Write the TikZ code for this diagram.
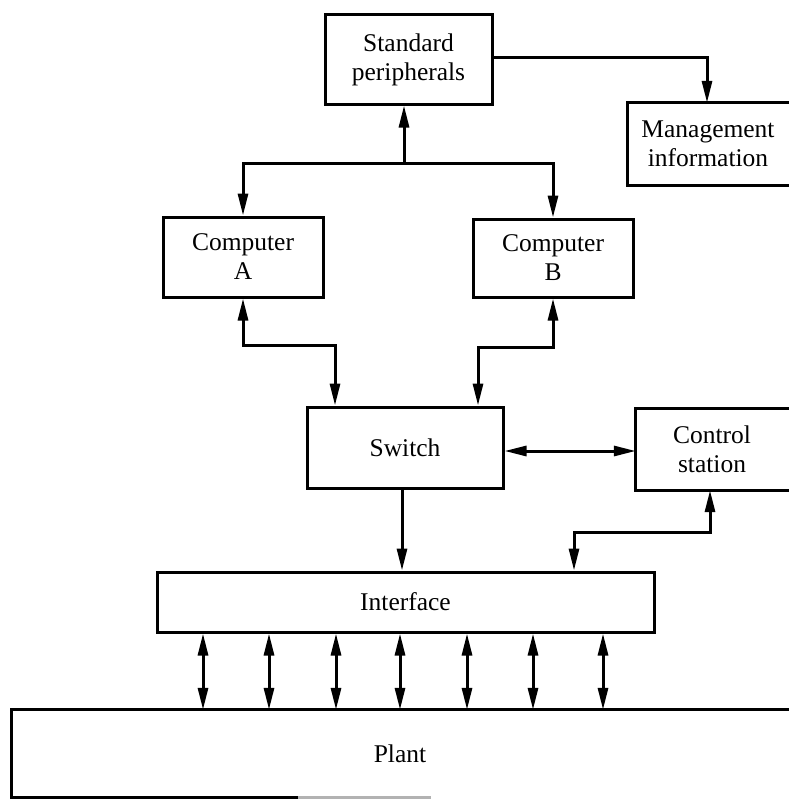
\documentclass[tikz,border=0pt]{standalone}
\usepackage{fontspec}
\setmainfont{Liberation Serif}
\usetikzlibrary{arrows.meta}
\begin{document}
\begin{tikzpicture}[x=1pt,y=-1pt,
  font=\fontsize{25.5}{29}\selectfont,
  thick line/.style={line width=3pt},
  tip/.tip={Triangle[length=22pt,width=10pt]},
  arr/.style={thick line,-tip},
  darr/.style={thick line,tip-tip},
  outline/.style={thick line,line cap=rect},
  box/.style={draw,thick line,rectangle,inner sep=0pt,align=center},
  openbox/.style={rectangle,inner sep=0pt,align=center}]
\useasboundingbox (0,0) rectangle (788,800);

% blocks
\node[box,minimum width=167pt,minimum height=89pt] (sp) at (408.5,59.5) {Standard\\peripherals};
\node[openbox,minimum width=160pt,minimum height=82pt] (mgmt) at (708,144) {Management\\information};
\node[box,minimum width=160pt,minimum height=80pt] (ca) at (243,257) {Computer\\A};
\node[box,minimum width=160pt,minimum height=78pt] (cb) at (553,258) {Computer\\B};
\node[box,minimum width=196pt,minimum height=81pt] (sw) at (405,447.5) {Switch};
\node[openbox,minimum width=152pt,minimum height=81pt] (cs) at (712,449.5) {Control\\station};
\node[box,minimum width=497pt,minimum height=60pt] (itf) at (405.5,602) {Interface};
\node[openbox,minimum width=776pt,minimum height=87pt] (plant) at (400,753.5) {Plant};

% boxes that run off the right edge
\draw[outline] (mgmt.north east) -- (mgmt.north west) -- (mgmt.south west) -- (mgmt.south east);
\draw[outline] (cs.north east) -- (cs.north west) -- (cs.south west) -- (cs.south east);
\draw[outline] (plant.north east) -- (plant.north west) -- (plant.south west) -- ++(288,0);
\draw[outline,black!30] (plant.south west) ++(288,0) -- ++(130,0);

% bend points
\coordinate (bus) at (404,163);
\coordinate (ja) at (335,345);
\coordinate (jb) at (478,347);
\coordinate (jc) at (574,532);
\coordinate (jm) at (707,58);

% connectors
\draw[arr] (sp.east |- jm) -- (jm) -- (jm |- mgmt.north);
\draw[arr] (bus) -- (bus |- sp.south);
\draw[darr] (ca.north) |- (bus) -| (cb.north);
\draw[darr] (ca.south) |- (ja) -- (ja |- sw.north);
\draw[darr] (cb.south) |- (jb) -- (jb |- sw.north);
\draw[darr] (sw.east |- 0,451) -- (cs.west |- 0,451);
\draw[arr] (402,0 |- sw.south) -- (402,0 |- itf.north);
\draw[darr] (cs.south -| 710,0) |- (jc) -- (jc |- itf.north);

% plant links
\foreach \x in {203,269,336,400,467,533,603}
  \draw[darr] (\x,0 |- itf.south) -- (\x,0 |- plant.north);
\end{tikzpicture}
\end{document}
